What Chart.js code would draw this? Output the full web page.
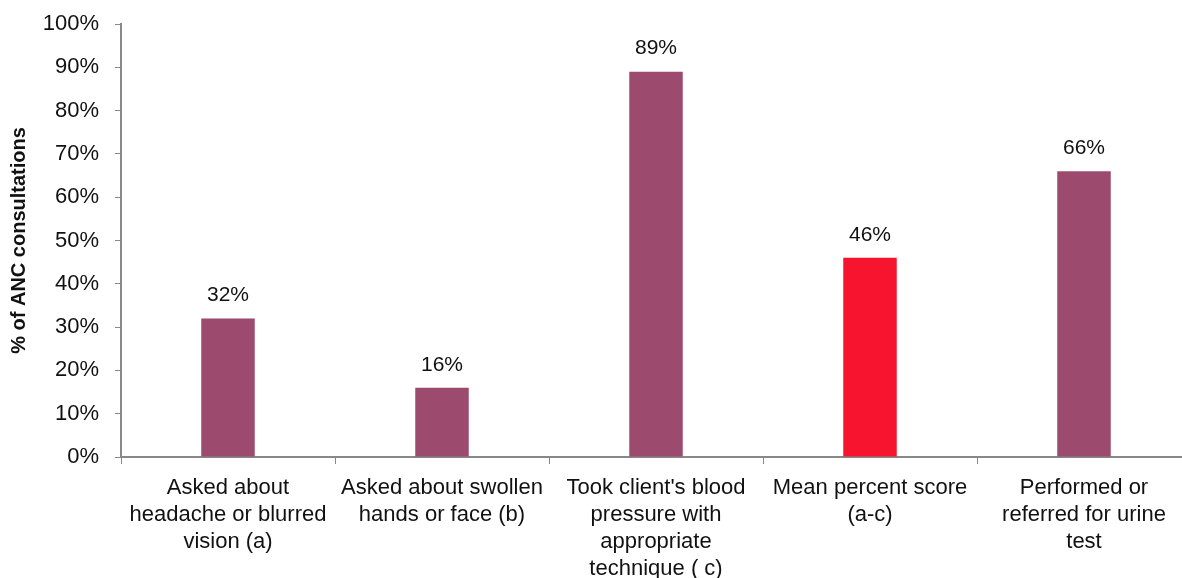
<!DOCTYPE html>
<html><head><meta charset="utf-8">
<script src="https://cdn.jsdelivr.net/npm/chart.js@4"></script>
<style>
html,body{margin:0;padding:0;background:#fff;overflow:hidden;}
#wrap{width:1195px;height:578px;}
</style></head>
<body><div id="wrap"><canvas id="c" width="1195" height="578"></canvas></div>
<script>
const categories = [
  ["Asked about", "headache or blurred", "vision (a)"],
  ["Asked about swollen", "hands or face (b)"],
  ["Took client's blood", "pressure with", "appropriate", "technique ( c)"],
  ["Mean percent score", "(a-c)"],
  ["Performed or", "referred for urine", "test"]
];
const values = [32, 16, 89, 46, 66];
const barColors = ["#9C4A6E", "#9C4A6E", "#9C4A6E", "#F7142F", "#9C4A6E"];
const yTickStep = 10;
const yTitle = "% of ANC consultations";
const FONT = "'Liberation Sans', Arial, sans-serif";

const labelPlugin = {
  id: 'vlabels',
  afterDatasetsDraw(chart) {
    const ctx = chart.ctx;
    const meta = chart.getDatasetMeta(0);
    ctx.save();
    ctx.font = "21px " + FONT;
    ctx.fillStyle = "#111";
    ctx.textAlign = "center";
    ctx.textBaseline = "middle";
    meta.data.forEach((bar, i) => {
      ctx.fillText(values[i] + "%", bar.x, bar.y - 23);
    });
    ctx.restore();
  }
};

new Chart(document.getElementById('c'), {
  type: 'bar',
  data: {
    labels: categories,
    datasets: [{ data: values, backgroundColor: barColors, barPercentage: 0.25, categoryPercentage: 1 }]
  },
  options: {
    responsive: false,
    animation: false,
    plugins: { legend: { display: false }, tooltip: { enabled: false } },
    layout: { padding: { top: 24, right: 4, left: 0, bottom: 0 } },
    scales: {
      x: {
        offset: true,
        grid: { display: true, drawOnChartArea: false, offset: true, color: "#888", lineWidth: 1, tickLength: 7 },
        border: { color: "#888", width: 2 },
        ticks: { color: "#111", font: { family: FONT, size: 22, lineHeight: 1.22 }, padding: 11, maxRotation: 0, autoSkip: false },
        afterFit(s) { s.height = 121; }
      },
      y: {
        min: 0, max: 100,
        grid: { display: true, drawOnChartArea: false, color: "#888", tickLength: 6 },
        border: { color: "#888", width: 2 },
        ticks: { stepSize: yTickStep, color: "#111", font: { family: FONT, size: 22 }, padding: 16, callback: v => v + "%" },
        title: { display: true, text: yTitle, color: "#111", font: { family: FONT, size: 20, weight: 'bold' }, padding: { top: 7, bottom: 0 } },
        afterFit(s) { s.width = 121; s.paddingTop = 12; s.paddingBottom = 12; }
      }
    }
  },
  plugins: [labelPlugin]
});
</script></body></html>
